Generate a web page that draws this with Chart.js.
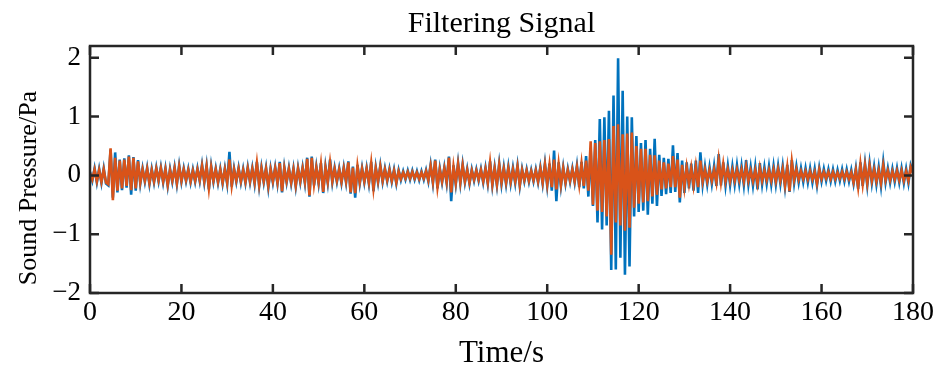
<!doctype html>
<html lang="en">

<head>
    <meta charset="utf-8">
    <title>Filtering Signal</title>
    <script src="https://cdn.jsdelivr.net/npm/chart.js@4.4.0/dist/chart.umd.min.js"></script>
    <style>
        html, body { margin: 0; padding: 0; background: #fff; }
        #wrap { width: 939px; height: 372px; }
    </style>
</head>

<body>
    <div id="wrap"><canvas id="myChart" width="939" height="372"></canvas></div>

    <script>
        // sample spacing of both traces, in seconds
        const dt = 0.5;

        const xTicks = [0, 20, 40, 60, 80, 100, 120, 140, 160, 180];
        const yTicks = [-2, -1, 0, 1, 2];

        // raw microphone signal (blue), one row = 10 s
        const rawSignal = [
            0.06, -0.09, 0.12, -0.12, 0.11, -0.13, 0.12, -0.14, -0.17, 0.44, -0.38, 0.39, -0.29, 0.27, -0.25, 0.29, -0.21, 0.34, -0.33, 0.31,
            -0.26, 0.26, -0.14, 0.12, -0.11, 0.13, -0.15, 0.11, -0.12, 0.13, -0.10, 0.14, -0.12, 0.12, -0.18, 0.11, -0.11, 0.14, -0.15, 0.17,
            -0.11, 0.12, -0.10, 0.11, -0.12, 0.10, -0.11, 0.12, -0.10, 0.18, -0.12, 0.17, -0.24, 0.16, -0.11, 0.12, -0.13, 0.11, -0.14, 0.12,
            -0.14, 0.40, -0.19, 0.12, -0.11, 0.13, -0.12, 0.11, -0.13, 0.14, -0.12, 0.13, -0.14, 0.23, -0.18, 0.14, -0.12, 0.13, -0.21, 0.12,
            -0.12, 0.14, -0.14, 0.23, -0.29, 0.14, -0.12, 0.13, -0.14, 0.12, -0.19, 0.13, -0.12, 0.14, -0.13, 0.30, -0.36, 0.32, -0.17, 0.15,
            -0.14, 0.21, -0.30, 0.15, -0.13, 0.27, -0.12, 0.13, -0.11, 0.12, -0.13, 0.14, -0.12, 0.24, -0.31, 0.15, -0.38, 0.18, -0.14, 0.13,
            -0.12, 0.13, -0.14, 0.23, -0.27, 0.14, -0.12, 0.17, -0.11, 0.12, -0.10, 0.11, -0.11, 0.10, -0.14, 0.09, -0.08, 0.07, -0.07, 0.08,
            -0.07, 0.08, -0.07, 0.07, -0.08, 0.07, -0.07, 0.09, -0.10, 0.18, -0.13, 0.27, -0.22, 0.12, -0.12, 0.14, -0.13, 0.32, -0.44, 0.17,
            -0.15, 0.21, -0.14, 0.19, -0.12, 0.11, -0.14, 0.10, -0.09, 0.10, -0.09, 0.11, -0.12, 0.13, -0.14, 0.24, -0.17, 0.14, -0.17, 0.20,
            -0.15, 0.14, -0.15, 0.15, -0.14, 0.13, -0.13, 0.17, -0.18, 0.11, -0.10, 0.10, -0.11, 0.09, -0.10, 0.10, -0.12, 0.14, -0.14, 0.20,
            -0.18, 0.20, -0.26, 0.42, -0.44, 0.22, -0.18, 0.14, -0.14, 0.11, -0.11, 0.12, -0.12, 0.17, -0.20, 0.23, -0.22, 0.33, -0.36, 0.45,
            -0.52, 0.60, -0.80, 0.96, -0.92, 0.99, -0.85, 1.10, -1.61, 1.36, -1.60, 1.99, -1.40, 1.44, -1.69, 1.00, -1.55, 0.99, -0.70, 0.67,
            -0.62, 0.55, -0.60, 0.60, -0.67, 0.45, -0.48, 0.62, -0.52, 0.35, -0.35, 0.30, -0.32, 0.28, -0.30, 0.51, -0.28, 0.38, -0.46, 0.25,
            -0.30, 0.22, -0.22, 0.20, -0.26, 0.25, -0.30, 0.39, -0.15, 0.15, -0.15, 0.14, -0.14, 0.16, -0.18, 0.36, -0.17, 0.22, -0.17, 0.16,
            -0.16, 0.15, -0.15, 0.17, -0.14, 0.16, -0.16, 0.26, -0.15, 0.14, -0.17, 0.15, -0.24, 0.21, -0.15, 0.14, -0.14, 0.15, -0.15, 0.16,
            -0.15, 0.16, -0.14, 0.16, -0.20, 0.18, -0.28, 0.26, -0.13, 0.15, -0.12, 0.12, -0.11, 0.12, -0.12, 0.12, -0.12, 0.11, -0.17, 0.13,
            -0.10, 0.11, -0.09, 0.10, -0.10, 0.10, -0.10, 0.09, -0.09, 0.10, -0.10, 0.10, -0.10, 0.09, -0.14, 0.12, -0.23, 0.22, -0.18, 0.20,
            -0.17, 0.21, -0.13, 0.15, -0.15, 0.14, -0.18, 0.23, -0.12, 0.12, -0.12, 0.11, -0.11, 0.12, -0.12, 0.12, -0.13, 0.11, -0.13, 0.17, 0.05
        ];

        // filtered signal (orange), same sampling
        const filteredSignal = [
            0.04, -0.07, 0.10, -0.10, 0.09, -0.11, 0.10, -0.12, -0.15, 0.46, -0.42, 0.30, -0.26, 0.25, -0.22, 0.27, -0.18, 0.32, -0.25, 0.30,
            -0.22, 0.24, -0.12, 0.10, -0.09, 0.11, -0.13, 0.09, -0.10, 0.11, -0.08, 0.12, -0.10, 0.10, -0.16, 0.09, -0.09, 0.12, -0.13, 0.15,
            -0.09, 0.10, -0.08, 0.09, -0.10, 0.08, -0.09, 0.10, -0.08, 0.16, -0.10, 0.15, -0.22, 0.14, -0.09, 0.10, -0.11, 0.09, -0.12, 0.10,
            -0.12, 0.27, -0.17, 0.10, -0.09, 0.11, -0.10, 0.09, -0.11, 0.12, -0.10, 0.11, -0.12, 0.21, -0.16, 0.12, -0.10, 0.11, -0.18, 0.10,
            -0.10, 0.12, -0.12, 0.21, -0.27, 0.12, -0.10, 0.11, -0.12, 0.10, -0.17, 0.11, -0.10, 0.12, -0.11, 0.28, -0.34, 0.30, -0.15, 0.13,
            -0.12, 0.19, -0.28, 0.13, -0.11, 0.22, -0.10, 0.11, -0.09, 0.10, -0.11, 0.12, -0.10, 0.22, -0.29, 0.13, -0.30, 0.16, -0.12, 0.11,
            -0.10, 0.11, -0.12, 0.21, -0.22, 0.12, -0.10, 0.15, -0.09, 0.10, -0.08, 0.09, -0.09, 0.08, -0.12, 0.07, -0.06, 0.05, -0.05, 0.06,
            -0.05, 0.06, -0.05, 0.05, -0.06, 0.05, -0.05, 0.07, -0.08, 0.16, -0.11, 0.25, -0.20, 0.10, -0.10, 0.12, -0.11, 0.30, -0.29, 0.15,
            -0.13, 0.19, -0.12, 0.17, -0.10, 0.09, -0.12, 0.08, -0.07, 0.08, -0.07, 0.09, -0.10, 0.11, -0.12, 0.22, -0.15, 0.12, -0.15, 0.18,
            -0.12, 0.11, -0.12, 0.12, -0.11, 0.10, -0.10, 0.15, -0.16, 0.09, -0.08, 0.08, -0.09, 0.07, -0.08, 0.08, -0.10, 0.12, -0.12, 0.18,
            -0.15, 0.18, -0.20, 0.27, -0.24, 0.19, -0.16, 0.12, -0.12, 0.09, -0.09, 0.10, -0.10, 0.14, -0.16, 0.20, -0.18, 0.25, -0.26, 0.58,
            -0.50, 0.55, -0.60, 0.58, -0.62, 0.60, -0.70, 0.62, -1.35, 0.84, -0.80, 0.87, -0.85, 0.70, -0.94, 0.71, -0.89, 0.73, -0.55, 0.50,
            -0.48, 0.45, -0.46, 0.45, -0.44, 0.35, -0.36, 0.34, -0.33, 0.25, -0.24, 0.22, -0.22, 0.20, -0.20, 0.33, -0.20, 0.27, -0.38, 0.18,
            -0.20, 0.14, -0.14, 0.13, -0.17, 0.15, -0.20, 0.25, -0.10, 0.10, -0.10, 0.09, -0.09, 0.10, -0.12, 0.26, -0.11, 0.19, -0.10, 0.10,
            -0.10, 0.09, -0.09, 0.10, -0.08, 0.10, -0.10, 0.15, -0.09, 0.08, -0.10, 0.09, -0.14, 0.13, -0.09, 0.08, -0.08, 0.09, -0.09, 0.10,
            -0.10, 0.11, -0.09, 0.11, -0.17, 0.14, -0.27, 0.23, -0.08, 0.10, -0.07, 0.07, -0.06, 0.07, -0.07, 0.07, -0.07, 0.06, -0.14, 0.10,
            -0.06, 0.06, -0.05, 0.06, -0.06, 0.06, -0.06, 0.05, -0.05, 0.06, -0.06, 0.06, -0.06, 0.05, -0.12, 0.09, -0.20, 0.19, -0.15, 0.17,
            -0.13, 0.17, -0.09, 0.10, -0.10, 0.09, -0.13, 0.17, -0.08, 0.08, -0.08, 0.07, -0.07, 0.08, -0.08, 0.08, -0.09, 0.07, -0.09, 0.14, 0.03
        ];

        const axisColor = '#262626';
        const serif = 'Liberation Serif, Times New Roman, serif';

        function toPoints(values) {
            return values.map((v, i) => ({ x: i * dt, y: v }));
        }

        // MATLAB style box with inward ticks, title centred over the axes, y label
        const boxPlugin = {
            id: 'box',
            afterDatasetsDraw(chart) {
                const { ctx, chartArea: a, scales } = chart;
                const len = 9;
                ctx.save();
                ctx.strokeStyle = axisColor;
                ctx.lineWidth = 2.5;
                ctx.beginPath();
                xTicks.forEach(t => {
                    const px = scales.x.getPixelForValue(t);
                    ctx.moveTo(px, a.bottom);
                    ctx.lineTo(px, a.bottom - len);
                    ctx.moveTo(px, a.top);
                    ctx.lineTo(px, a.top + len);
                });
                yTicks.forEach(t => {
                    const py = scales.y.getPixelForValue(t);
                    ctx.moveTo(a.left, py);
                    ctx.lineTo(a.left + len, py);
                    ctx.moveTo(a.right, py);
                    ctx.lineTo(a.right - len, py);
                });
                ctx.stroke();
                ctx.strokeRect(a.left, a.top, a.right - a.left, a.bottom - a.top);

                ctx.fillStyle = '#000';
                ctx.textAlign = 'center';
                ctx.textBaseline = 'middle';
                ctx.font = '30px ' + serif;
                ctx.fillText('Filtering Signal', (a.left + a.right) / 2, 24);

                ctx.translate(29, 188);
                ctx.rotate(-Math.PI / 2);
                ctx.font = '26px ' + serif;
                ctx.fillText('Sound Pressure/Pa', 0, 0);
                ctx.restore();
            }
        };

        const config = {
            type: 'line',
            data: {
                datasets: [
                    {
                        label: 'Filtered',
                        data: toPoints(filteredSignal),
                        borderColor: '#D95319',
                        borderWidth: 2.6,
                        pointRadius: 0,
                        tension: 0,
                        fill: false,
                        order: 1,
                    },
                    {
                        label: 'Raw',
                        data: toPoints(rawSignal),
                        borderColor: '#0072BD',
                        borderWidth: 2.6,
                        pointRadius: 0,
                        tension: 0,
                        fill: false,
                        order: 2,
                    }
                ]
            },
            options: {
                responsive: false,
                animation: false,
                layout: { padding: { top: 46, right: 26 } },
                plugins: {
                    legend: { display: false },
                    tooltip: { enabled: false },
                    title: { display: false },
                },
                scales: {
                    x: {
                        type: 'linear',
                        min: 0,
                        max: 180,
                        grid: { display: false, drawTicks: false },
                        border: { display: false },
                        ticks: {
                            stepSize: 20,
                            includeBounds: false,
                            maxRotation: 0,
                            padding: 3,
                            color: '#000',
                            font: { family: serif, size: 28 },
                        },
                        title: {
                            display: true,
                            text: 'Time/s',
                            color: '#000',
                            font: { family: serif, size: 31 },
                            padding: { top: 0, bottom: 0 },
                        },
                        afterFit: s => { s.height = 79; },
                    },
                    y: {
                        min: -2,
                        max: 2.2,
                        grid: { display: false, drawTicks: false },
                        border: { display: false },
                        ticks: {
                            stepSize: 1,
                            includeBounds: false,
                            padding: 9,
                            color: '#000',
                            font: { family: serif, size: 27 },
                            callback: v => v < 0 ? '\u2212' + Math.abs(v) : String(v),
                        },
                        afterFit: s => { s.width = 90; },
                    }
                }
            },
            plugins: [boxPlugin]
        };

        new Chart(document.getElementById('myChart'), config);
    </script>
</body>

</html>
